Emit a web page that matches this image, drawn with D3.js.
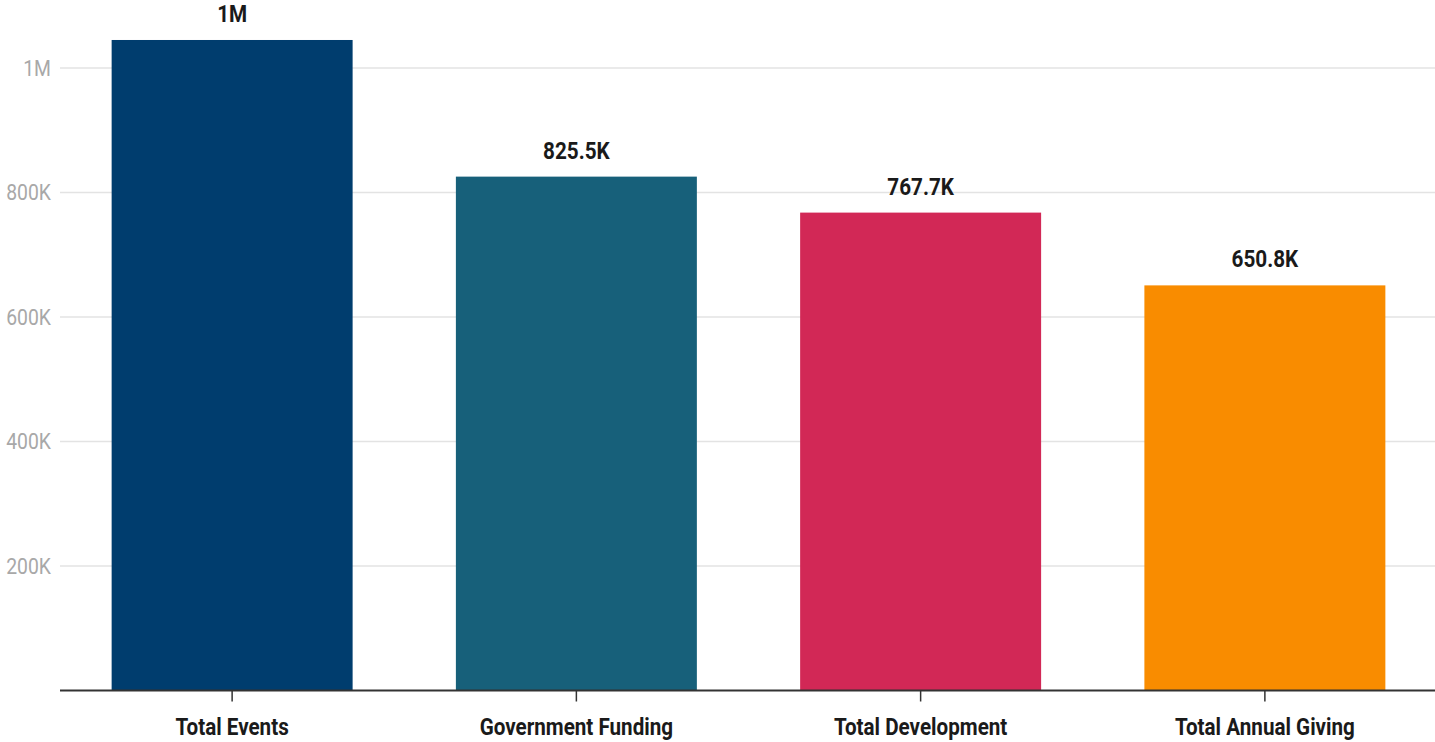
<!DOCTYPE html>
<html><head><meta charset="utf-8">
<script src="https://cdn.jsdelivr.net/npm/d3@7"></script>
<style>body{margin:0;background:#fff;} svg{display:block;}</style>
</head><body>
<svg id="c" width="1435" height="742"></svg>
<script>
const categories = ["Total Events","Government Funding","Total Development","Total Annual Giving"];
const values = [1045000, 825500, 767700, 650800];
const valueLabels = ["1M","825.5K","767.7K","650.8K"];
const colors = ["#003d6e","#17607a","#d22856","#f98c00"];
const yTicks = [200000,400000,600000,800000,1000000];
const yTickLabels = ["200K","400K","600K","800K","1M"];

const svg = d3.select("#c");
const x = d3.scaleBand().domain(categories).range([60,1437]).paddingInner(0.3).paddingOuter(0.15);
const y = d3.scaleLinear().domain([0,1000000]).range([690.5,68]);
const font = "Roboto, sans-serif";

// gridlines
svg.append("g").selectAll("line").data(yTicks).join("line")
  .attr("x1",60).attr("x2",1435).attr("y1",d=>y(d)).attr("y2",d=>y(d))
  .attr("stroke","#e3e3e3").attr("stroke-width",1.5);

// y labels
svg.append("g").selectAll("text").data(yTicks).join("text")
  .attr("transform",d=>`translate(51,${y(d)}) scale(0.88,1)`)
  .attr("text-anchor","end").attr("dy","0.35em")
  .attr("font-family",font).attr("font-size",22).attr("fill","#a8a8a8")
  .text((d,i)=>yTickLabels[i]);

// bars
svg.append("g").selectAll("rect").data(values).join("rect")
  .attr("x",(d,i)=>x(categories[i])).attr("width",x.bandwidth())
  .attr("y",d=>y(d)).attr("height",d=>y(0)-y(d))
  .attr("fill",(d,i)=>colors[i]);

// value labels
svg.append("g").selectAll("text").data(values).join("text")
  .attr("transform",(d,i)=>`translate(${x(categories[i])+x.bandwidth()/2},${y(d)-18}) scale(0.9,1)`)
  .attr("text-anchor","middle")
  .attr("font-family",font).attr("font-weight",700).attr("font-size",23).attr("fill","#1a1a1a")
  .text((d,i)=>valueLabels[i]);

// x axis
svg.append("line").attr("x1",60).attr("x2",1435).attr("y1",y(0)).attr("y2",y(0))
  .attr("stroke","#333").attr("stroke-width",2);
svg.append("g").selectAll("line").data(categories).join("line")
  .attr("x1",d=>x(d)+x.bandwidth()/2).attr("x2",d=>x(d)+x.bandwidth()/2)
  .attr("y1",y(0)).attr("y2",y(0)+11).attr("stroke","#333").attr("stroke-width",1.5);
svg.append("g").selectAll("text").data(categories).join("text")
  .attr("transform",d=>`translate(${x(d)+x.bandwidth()/2},735) scale(0.86,1)`)
  .attr("text-anchor","middle")
  .attr("font-family",font).attr("font-weight",700).attr("font-size",24).attr("fill","#1a1a1a")
  .text(d=>d);
</script>
</body></html>
